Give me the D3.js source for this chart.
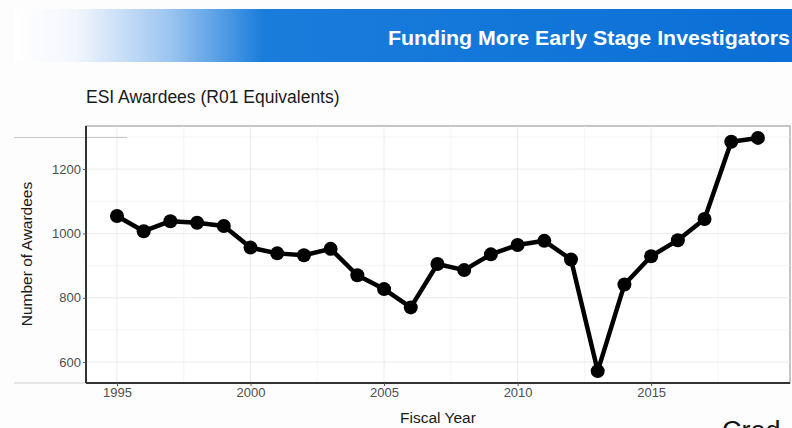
<!DOCTYPE html>
<html>
<head>
<meta charset="utf-8">
<script src="https://cdn.jsdelivr.net/npm/d3@7"></script>
<style>
  body { margin: 0; background: #fdfdfd; }
  svg { display: block; font-family: "Liberation Sans", Arial, sans-serif; }
</style>
</head>
<body>
<svg width="792" height="428"></svg>
<script>
// Fiscal years and ESI awardee counts
const years = [1995, 1996, 1997, 1998, 1999, 2000, 2001, 2002, 2003, 2004, 2005, 2006, 2007,
               2008, 2009, 2010, 2011, 2012, 2013, 2014, 2015, 2016, 2017, 2018, 2019];
const awardees = [1054, 1007, 1038, 1033, 1023, 956, 938, 932, 952, 870, 827, 770, 905,
                  886, 935, 964, 977, 919, 572, 841, 929, 979, 1045, 1285, 1297];
const xTicks = [1995, 2000, 2005, 2010, 2015];
const yTicks = [600, 800, 1000, 1200];

const svg = d3.select("svg");

// Slide header banner, white fading into blue
const grad = svg.append("defs").append("linearGradient")
    .attr("id", "band").attr("x1", "0%").attr("x2", "100%");
grad.append("stop").attr("offset", "0%").attr("stop-color", "#ffffff");
grad.append("stop").attr("offset", "8%").attr("stop-color", "#f2f6fd");
grad.append("stop").attr("offset", "20%").attr("stop-color", "#9cc5f0");
grad.append("stop").attr("offset", "32%").attr("stop-color", "#1a7ddc");
grad.append("stop").attr("offset", "100%").attr("stop-color", "#0a6fd6");
svg.append("rect")
    .attr("x", 14).attr("y", 9).attr("width", 778).attr("height", 53)
    .attr("fill", "url(#band)");
svg.append("text")
    .attr("x", 388).attr("y", 45)
    .attr("fill", "#ffffff")
    .attr("font-size", 20).attr("font-weight", "bold")
    .attr("textLength", 402).attr("lengthAdjust", "spacingAndGlyphs")
    .text("Funding More Early Stage Investigators");

// Chart title
svg.append("text")
    .attr("x", 86).attr("y", 103)
    .attr("fill", "#1a1a1a")
    .attr("font-size", 17.5)
    .text("ESI Awardees (R01 Equivalents)");

// Plot panel
const pLeft = 86, pRight = 790, pTop = 126, pBottom = 383;
const x = d3.scaleLinear().domain([1993.84, 2020.2]).range([pLeft, pRight]);
const y = d3.scaleLinear().domain([535, 1334]).range([pBottom, pTop]);

svg.append("rect")
    .attr("x", pLeft).attr("y", pTop).attr("width", pRight - pLeft).attr("height", pBottom - pTop)
    .attr("fill", "#ffffff").attr("stroke", "#a0a0a0").attr("stroke-width", 1.2);

// minor grid
const g = svg.append("g");
[1997.5, 2002.5, 2007.5, 2012.5, 2017.5].forEach(v => {
    g.append("line").attr("x1", x(v)).attr("x2", x(v)).attr("y1", pTop).attr("y2", pBottom)
        .attr("stroke", "#f3f3f3").attr("stroke-width", 0.8);
});
[700, 900, 1100, 1300].forEach(v => {
    g.append("line").attr("x1", pLeft).attr("x2", pRight).attr("y1", y(v)).attr("y2", y(v))
        .attr("stroke", "#f3f3f3").attr("stroke-width", 0.8);
});
// major grid
xTicks.forEach(v => {
    g.append("line").attr("x1", x(v)).attr("x2", x(v)).attr("y1", pTop).attr("y2", pBottom)
        .attr("stroke", "#ebebeb").attr("stroke-width", 1);
});
yTicks.forEach(v => {
    g.append("line").attr("x1", pLeft).attr("x2", pRight).attr("y1", y(v)).attr("y2", y(v))
        .attr("stroke", "#ebebeb").attr("stroke-width", 1);
});

// stray slide lines
svg.append("line").attr("x1", 14).attr("x2", 127).attr("y1", 137.5).attr("y2", 137.5)
    .attr("stroke", "#c8c8c8").attr("stroke-width", 1);
svg.append("line").attr("x1", 14).attr("x2", pLeft).attr("y1", pBottom).attr("y2", pBottom)
    .attr("stroke", "#d0d0d0").attr("stroke-width", 1);

// axes
const xAxis = svg.append("g").attr("transform", `translate(0,${pBottom})`)
    .call(d3.axisBottom(x).tickValues(xTicks).tickFormat(d3.format("d")).tickSize(3).tickPadding(2));
const yAxis = svg.append("g").attr("transform", `translate(${pLeft},0)`)
    .call(d3.axisLeft(y).tickValues(yTicks).tickFormat(d3.format("d")).tickSize(3).tickPadding(2));
[xAxis, yAxis].forEach(a => {
    a.select(".domain").attr("stroke", "#333333").attr("stroke-width", 2);
    a.selectAll(".tick line").attr("stroke", "#555555");
    a.selectAll(".tick text").attr("fill", "#4d4d4d").attr("font-size", 13)
        .attr("font-family", "Liberation Sans, Arial, sans-serif");
});
xAxis.select(".domain").attr("d", `M${pLeft},0H${pRight}`);
yAxis.select(".domain").attr("d", `M0,${pTop}V${pBottom}`);

// line and points
const line = d3.line().x((d, i) => x(years[i])).y(d => y(d));
svg.append("path").datum(awardees)
    .attr("d", line)
    .attr("fill", "none").attr("stroke", "#000000").attr("stroke-width", 4.5)
    .attr("stroke-linejoin", "round");
svg.selectAll(".pt").data(awardees).enter().append("circle")
    .attr("class", "pt")
    .attr("cx", (d, i) => x(years[i]))
    .attr("cy", d => y(d))
    .attr("r", 7)
    .attr("fill", "#000000");

// axis titles
svg.append("text")
    .attr("x", 438).attr("y", 423)
    .attr("text-anchor", "middle")
    .attr("fill", "#1a1a1a").attr("font-size", 15.5)
    .text("Fiscal Year");
svg.append("text")
    .attr("transform", "translate(32,254) rotate(-90)")
    .attr("text-anchor", "middle")
    .attr("fill", "#1a1a1a").attr("font-size", 15.5)
    .text("Number of Awardees");

// cut-off slide text
svg.append("text")
    .attr("x", 722).attr("y", 440)
    .attr("fill", "#111111").attr("font-size", 27)
    .text("Cred");
</script>
</body>
</html>
